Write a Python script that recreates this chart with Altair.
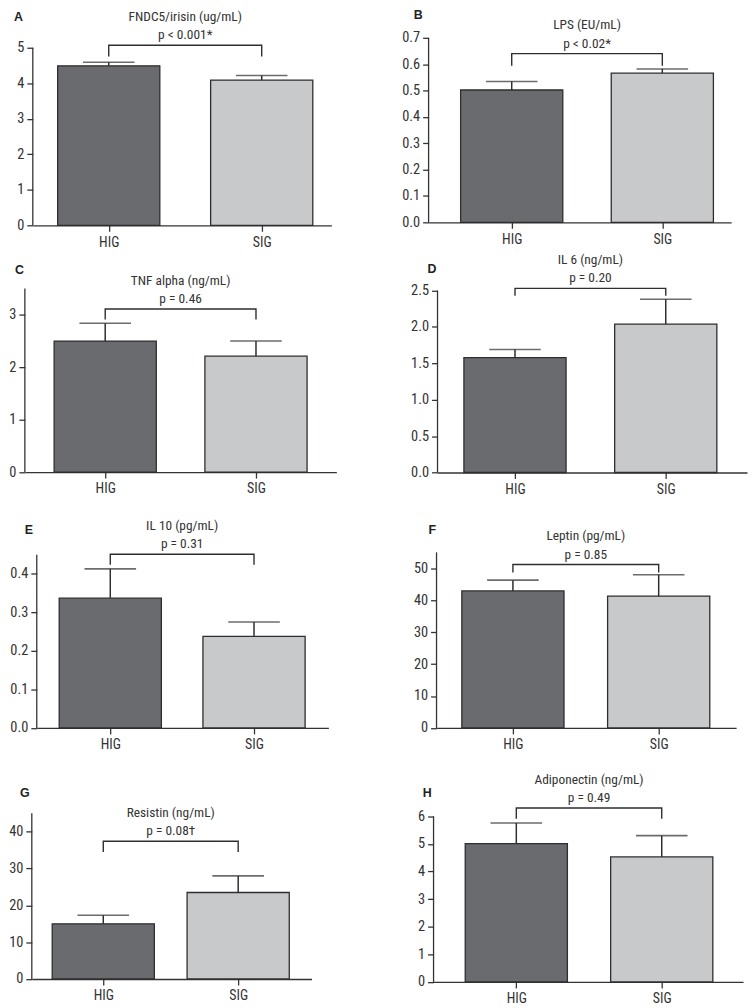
import altair as alt
import pandas as pd

# ---------------- data ----------------
letters = ["A", "B", "C", "D", "E", "F", "G", "H"]
titles = ["FNDC5/irisin (ug/mL)", "LPS (EU/mL)", "TNF alpha (ng/mL)", "IL 6 (ng/mL)",
          "IL 10 (pg/mL)", "Leptin (pg/mL)", "Resistin (ng/mL)", "Adiponectin (ng/mL)"]
p_texts = ["p < 0.001*", "p < 0.02*", "p = 0.46", "p = 0.20",
           "p = 0.31", "p = 0.85", "p = 0.08\u2020", "p = 0.49"]
groups = ["HIG", "SIG"]
hig_mean = [4.49, 0.502, 2.50, 1.58, 0.337, 42.9, 15.0, 5.01]
hig_upper = [4.59, 0.534, 2.84, 1.69, 0.413, 46.3, 17.3, 5.76]
sig_mean = [4.09, 0.566, 2.21, 2.04, 0.238, 41.3, 23.5, 4.53]
sig_upper = [4.22, 0.582, 2.50, 2.38, 0.275, 48.0, 28.0, 5.30]
bracket_top = [5.07, 0.640, 3.11, 2.53, 0.451, 51.2, 37.4, 6.30]
bracket_end = [4.75, 0.594, 2.91, 2.43, 0.424, 48.7, 34.5, 5.91]
y_max = [5, 0.7, 3.5, 2.5, 0.45, 55, 45, 6]
y_ticks = [
    [0, 1, 2, 3, 4, 5],
    [0, 0.1, 0.2, 0.3, 0.4, 0.5, 0.6, 0.7],
    [0, 1, 2, 3],
    [0, 0.5, 1.0, 1.5, 2.0, 2.5],
    [0, 0.1, 0.2, 0.3, 0.4],
    [0, 10, 20, 30, 40, 50],
    [0, 10, 20, 30, 40],
    [0, 1, 2, 3, 4, 5, 6],
]
y_formats = ["d", ".1f", "d", ".1f", ".1f", "d", "d", "d"]

# ---------------- layout (pixels) ----------------
plot_w = [301, 305, 314, 312, 294, 302, 282, 312]
axis_h = [179, 186, 185, 183.4, 174.7, 177, 167, 167]      # pixel height of the 0..y_max axis
plot_h = [219, 216, 221.8, 222.2, 212.7, 212.7, 209.8, 212.8]  # incl. head room for titles
x_domains = [[-0.464, 1.423], [-0.519, 1.424], [-0.5, 1.5], [-0.481, 1.506],
             [-0.477, 1.483], [-0.49, 1.497], [-0.493, 1.507], [-0.535, 1.525]]
letter_dx = [-19, -15, -10, -10, -12, -8, -12, -11]
letter_dy = [-31, -23, -19, -22, -25, -23, -20, -23]
row_left = [24, 16, 28, 23]            # x of the left panel's y axis (relative)
row_right = [423, 432, 431, 428]       # x of the right panel's y axis (relative)
row_gaps = [0.5, 18.8, 16.3]           # vertical gaps between row blocks

DARK = "#6a6b6f"
LIGHT = "#c8c9cb"
INK = "#2e2e2e"
FONT = "Liberation Sans Narrow, Roboto Condensed, DejaVu Sans Condensed, sans-serif"


def spacer(w, h):
    return alt.Chart(pd.DataFrame({"v": [0]})).mark_point(
        size=0, opacity=0, strokeWidth=0).properties(width=w, height=h)


def panel(i):
    bars_df = pd.DataFrame({
        "group": groups,
        "pos": [0, 1],
        "mean": [hig_mean[i], sig_mean[i]],
        "upper": [hig_upper[i], sig_upper[i]],
    })
    br_df = pd.DataFrame({
        "pos": [0, 0, 1, 1],
        "val": [bracket_end[i], bracket_top[i], bracket_top[i], bracket_end[i]],
        "ord": [0, 1, 2, 3],
    })
    txt_df = pd.DataFrame({"pos": [0.5], "val": [bracket_top[i]],
                           "title": [titles[i]], "p": [p_texts[i]], "letter": [letters[i]]})
    axis_df = pd.DataFrame({"lo": [0], "hi": [y_max[i]]})

    top = y_max[i] * plot_h[i] / axis_h[i]
    xscale = alt.Scale(domain=x_domains[i], nice=False, zero=False)
    yscale = alt.Scale(domain=[0, top], nice=False, zero=True)
    label_expr = f"datum.value == 0 ? '{groups[0]}' : '{groups[1]}'"
    xaxis = alt.Axis(values=[0, 1], labelExpr=label_expr, title=None, grid=False,
                     labelPadding=4, labelFontSize=14, tickCount=2, tickSize=6)
    yaxis = alt.Axis(values=y_ticks[i], tickCount=len(y_ticks[i]), format=y_formats[i],
                     title=None, grid=False, domain=False, labelOverlap=False,
                     labelFontSize=14.5, labelPadding=3)

    x = alt.X("pos:Q", scale=xscale, axis=xaxis)
    xn = alt.X("pos:Q", scale=xscale)

    bars = alt.Chart(bars_df).mark_bar(size=103, stroke=INK, strokeWidth=1.3).encode(
        x=x,
        y=alt.Y("mean:Q", scale=yscale, axis=yaxis),
        color=alt.Color("group:N", scale=alt.Scale(domain=groups, range=[DARK, LIGHT]), legend=None),
    )
    yline = alt.Chart(axis_df).mark_rule(color="#333", strokeWidth=1.3).encode(
        x=alt.value(0), y=alt.Y("lo:Q"), y2="hi:Q")
    err = alt.Chart(bars_df).mark_rule(color=INK, strokeWidth=1.5).encode(
        x=xn, y=alt.Y("mean:Q"), y2="upper:Q")
    cap = alt.Chart(bars_df).mark_tick(orient="horizontal", size=52, thickness=1.6, color=INK).encode(
        x=xn, y=alt.Y("upper:Q"))
    bracket = alt.Chart(br_df).mark_line(color=INK, strokeWidth=1.4).encode(
        x=xn, y=alt.Y("val:Q"), order="ord:Q")
    ptxt = alt.Chart(txt_df).mark_text(dy=-10, fontSize=13.5, color="#333", font=FONT,
                                       baseline="middle").encode(x=xn, y=alt.Y("val:Q"), text="p:N")
    ttl = alt.Chart(txt_df).mark_text(dy=-28.5, fontSize=13.5, color="#333", font=FONT,
                                      baseline="middle").encode(x=xn, y=alt.Y("val:Q"), text="title:N")
    let = alt.Chart(txt_df).mark_text(fontSize=12.5, fontWeight="bold", color="#222",
                                      font="Liberation Sans, Arial, sans-serif",
                                      align="left", baseline="middle").encode(
        x=alt.value(letter_dx[i]), y=alt.value(plot_h[i] - axis_h[i] + letter_dy[i]), text="letter:N")

    return alt.layer(bars, yline, err, cap, bracket, ptxt, ttl, let).properties(
        width=plot_w[i], height=plot_h[i])


def row(r):
    li, ri = 2 * r, 2 * r + 1
    gap = row_right[r] - row_left[r] - plot_w[li]
    return alt.hconcat(spacer(row_left[r], 1), panel(li), spacer(gap, 1), panel(ri),
                       spacing=0, bounds="flush")


items = [row(0)]
for r in range(1, 4):
    items.append(spacer(1, row_gaps[r - 1]))
    items.append(row(r))

chart = alt.vconcat(*items, spacing=0).properties(
    padding={"left": 0, "top": -5, "right": 0, "bottom": 0}, background="white"
).configure_view(stroke="transparent").configure_axis(
    domainColor="#333", domainWidth=1.3, tickColor="#333", tickWidth=1.3, tickSize=6,
    labelFont=FONT, labelFontSize=13.5, labelColor="#333",
)

chart.save("out.html", embed_options={"renderer": "svg", "actions": False})
